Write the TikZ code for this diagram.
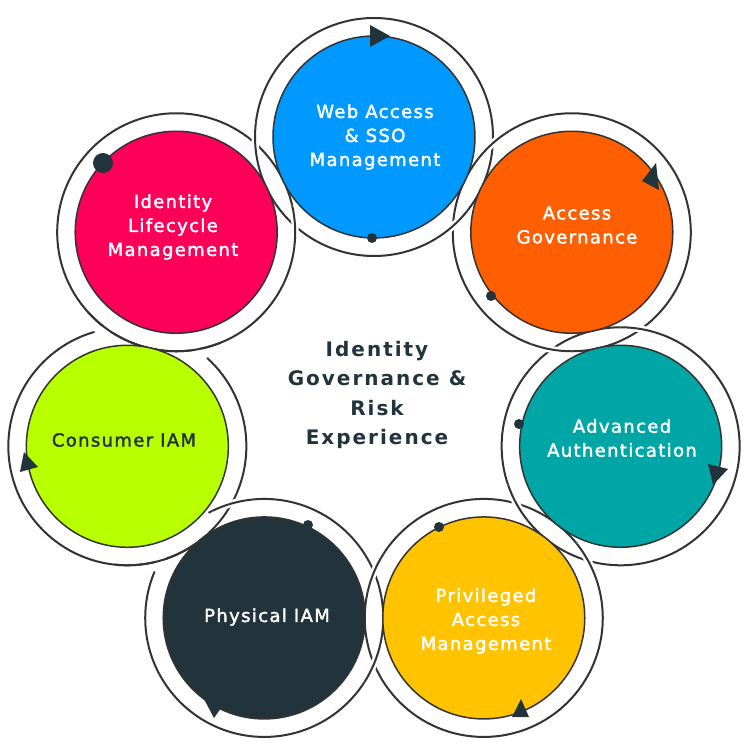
\documentclass[tikz,border=0pt]{standalone}
\usepackage{fontspec}
\newfontfamily\lblfont{DejaVu Sans}[LetterSpace=7.5, FakeBold=2]
\newfontfamily\ctrfont{DejaVu Sans}[LetterSpace=10]
\definecolor{webblue}{HTML}{0099FF}
\definecolor{accorange}{HTML}{FF5F00}
\definecolor{advteal}{HTML}{00A6A6}
\definecolor{privamber}{HTML}{FFC300}
\definecolor{physdark}{HTML}{22333B}
\definecolor{conslime}{HTML}{B8FF00}
\definecolor{idpink}{HTML}{FF0059}
\definecolor{ringc}{HTML}{333333}
\definecolor{markc}{HTML}{22333B}
\begin{document}
\begin{tikzpicture}[x=1bp,y=1bp,
  ringline/.style={draw=ringc, line width=2bp},
  gapline/.style={draw=white, line width=7bp},
  innerline/.style={draw=ringc, line width=1.5bp},
  lbl/.style={align=center, font=\lblfont\fontsize{18bp}{24bp}\selectfont, text=white, inner sep=0pt},
  ctr/.style={align=center, font=\ctrfont\bfseries\fontsize{20bp}{29.5bp}\selectfont, text=markc, inner sep=0pt},
  marker/.style={fill=markc, draw=none}]
\useasboundingbox (-374,-360) rectangle (376,390);
\fill[white] (-374,-360) rectangle (376,390);
% centres of the seven units
\foreach \k in {0,...,6} { \coordinate (c\k) at ({90-51.4286*\k}:253); }
% white discs and outer rings
\foreach \k in {0,...,6} { \fill[white] (c\k) circle[radius=119]; }
\foreach \k in {0,...,6} { \draw[ringline] (c\k) circle[radius=119]; }
% interlocking crossings
\foreach \k in {0,...,4,6} {
  \pgfmathtruncatemacro{\kn}{mod(\k+1,7)}
  \pgfmathsetmacro{\ph}{90-51.4286*\k-25.7143}
  \pgfmathsetmacro{\ao}{\ph+67.29}
  \pgfmathsetmacro{\ai}{\ph-112.71}
  \draw[gapline] ([shift={(\ao-10:119)}]c\kn) arc[start angle=\ao-10, end angle=\ao+10, radius=119];
  \draw[ringline] ([shift={(\ao-10:119)}]c\kn) arc[start angle=\ao-10, end angle=\ao+10, radius=119];
  \draw[gapline] ([shift={(\ai-10:119)}]c\k) arc[start angle=\ai-10, end angle=\ai+10, radius=119];
  \draw[ringline] ([shift={(\ai-10:119)}]c\k) arc[start angle=\ai-10, end angle=\ai+10, radius=119];
}
% Identity ring lies over Consumer ring
\draw[gapline] ([shift={(48:119)}]c5) arc[start angle=48, end angle=106, radius=119];
\draw[ringline] ([shift={(222:119)}]c6) arc[start angle=222, end angle=292, radius=119];
% Physical ring hidden under Consumer ring
\draw[gapline] ([shift={(118:119)}]c4) arc[start angle=118, end angle=157, radius=119];
\draw[ringline] ([shift={(-96:119)}]c5) arc[start angle=-96, end angle=-55, radius=119];
% inner coloured circles
\fill[webblue] (c0) circle[radius=101];
\fill[accorange] (c1) circle[radius=101];
\fill[advteal] (c2) circle[radius=101];
\fill[privamber] (c3) circle[radius=101];
\fill[physdark] (c4) circle[radius=101];
\fill[conslime] (c5) circle[radius=101];
\fill[idpink] (c6) circle[radius=101];
\foreach \k in {0,...,6} { \draw[innerline] (c\k) circle[radius=101]; }
% markers and labels in image coordinates
\begin{scope}[shift={(-374,390)}, y=-1bp]
  \fill[marker] (370,25) -- (390,36) -- (370,47) -- cycle;
  \fill[marker] (372,238) circle[radius=5];
  \fill[marker] (642,181) -- (656,163) -- (659,190) -- cycle;
  \fill[marker] (491,296) circle[radius=5];
  \fill[marker] (708,464) -- (728,469) -- (713,485) -- cycle;
  \fill[marker] (519,424) circle[radius=5];
  \fill[marker] (521,699) -- (529,717) -- (512,717) -- cycle;
  \fill[marker] (439,527) circle[radius=5];
  \fill[marker] (204,699) -- (221,708) -- (214,718) -- cycle;
  \fill[marker] (308,525) circle[radius=5];
  \fill[marker] (24,452) -- (38,467) -- (20,472) -- cycle;
  \fill[marker] (103,163) circle[radius=10];
  \node[lbl] (t0) at (375,137) {Web Access\\\& SSO\\Management};
  \node[lbl] (t1) at (577,225) {Access\\Governance};
  \node[lbl] (t2) at (622,438) {Advanced\\Authentication};
  \node[lbl] (t3) at (486,621) {Privileged\\Access\\Management};
  \node[lbl] (t4) at (267,617) {Physical IAM};
  \node[lbl, text=markc] (t5) at (124,440) {Consumer IAM};
  \node[lbl] (t6) at (173,227) {Identity\\Lifecycle\\Management};
  \node[ctr] (tc) at (377,395) {Identity\\Governance \&\\Risk\\Experience};
\end{scope}
\end{tikzpicture}
\end{document}
